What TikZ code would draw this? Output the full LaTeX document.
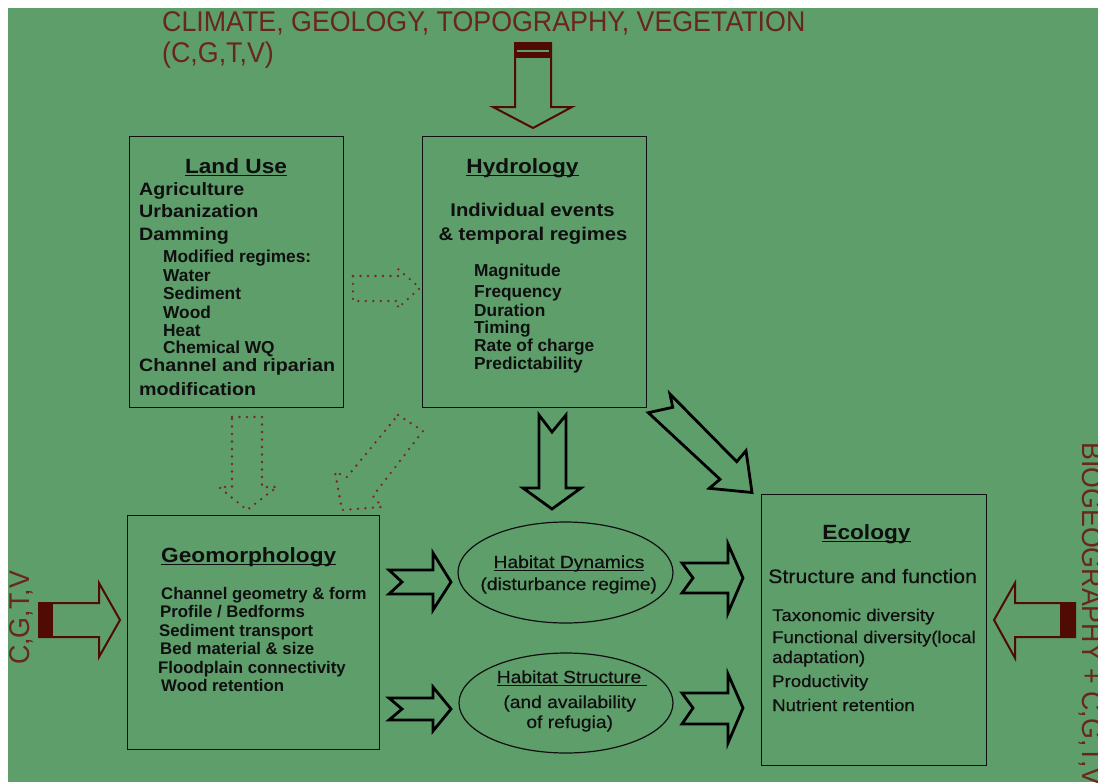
\documentclass[tikz,border=0pt]{standalone}
\usepackage{fontspec}
\setmainfont{Liberation Sans}
\newfontfamily\fN[FakeStretch=0.94]{Liberation Sans}
\newfontfamily\fW[FakeStretch=1.1]{Liberation Sans}
\newfontfamily\fWm[FakeStretch=1.1,FakeBold=0.5]{Liberation Sans}
\usetikzlibrary{shapes.geometric}
\definecolor{bg}{RGB}{94,158,107}
\definecolor{brn}{RGB}{80,12,4}
\definecolor{brtxt}{RGB}{105,38,28}
\definecolor{ink}{RGB}{15,15,15}
\definecolor{dotc}{RGB}{115,42,30}
\newcommand\ulin[1]{\setbox0=\hbox{#1}\rlap{\rule[-3.4pt]{\wd0}{1.4pt}}\box0}
\tikzset{
  box/.style={draw=ink, line width=1.3pt, inner sep=0pt, anchor=north west},
  ell/.style={ellipse, draw=ink, line width=1.2pt, inner sep=0pt},
  txt/.style={inner sep=0pt, text=ink, anchor=base west},
  ctxt/.style={inner sep=0pt, text=ink, anchor=base},
  brtext/.style={inner sep=0pt, anchor=base west, text=brtxt, font=\fN\fontsize{28.5}{30}\selectfont},
  head/.style={font=\fW\bfseries\fontsize{20.6}{24}\selectfont},
  mainit/.style={font=\fW\bfseries\fontsize{17.9}{20}\selectfont},
  subit/.style={font=\bfseries\fontsize{17.3}{20}\selectfont},
  geoit/.style={font=\bfseries\fontsize{16.8}{20}\selectfont},
  hmain/.style={font=\fW\bfseries\fontsize{18.4}{20}\selectfont},
  etxt/.style={font=\fWm\fontsize{17.5}{20}\selectfont},
  ecomain/.style={font=\fWm\fontsize{19.4}{22}\selectfont},
  ecoit/.style={font=\fWm\fontsize{16.9}{20}\selectfont},
  blkarrow/.style={draw=black, line width=2.8pt, line join=miter},
  brarrow/.style={draw=brn, line width=2pt, line join=miter},
  dotarrow/.style={draw=dotc, line width=2.6pt, line cap=round, dash pattern=on 0pt off 7.5pt},
}
\begin{document}
\begin{tikzpicture}[x=1pt, y=-1pt]
\useasboundingbox (0,0) rectangle (1098,782);
\fill[white] (0,0) rectangle (1098,782);
\fill[bg] (7.5,7.5) rectangle (1098,782);

% top label and arrow
\node[brtext] (clim1) at (162,31) {CLIMATE, GEOLOGY, TOPOGRAPHY, VEGETATION};
\node[brtext] (clim2) at (162,62) {(C,G,T,V)};
\draw[brarrow] (515,43) -- (551,43) -- (551,107) -- (572,107) -- (533,128) -- (493,107) -- (515,107) -- cycle;
\fill[brn] (515,43) rectangle (551,58);
\draw[bg, line width=2pt] (517,51) -- (549,51);

% Land Use
\node[box, minimum width=214pt, minimum height=271pt] (landuse) at (129,136) {};
\node[ctxt, head] (lut) at (236,173) {\ulin{Land Use}};
\node[txt, mainit] (lu1) at (139,195) {Agriculture};
\node[txt, mainit] (lu2) at (139,217) {Urbanization};
\node[txt, mainit] (lu3) at (139,240) {Damming};
\node[txt, subit] (lu4) at (163,262) {Modified regimes:};
\node[txt, subit] (lu5) at (163,281) {Water};
\node[txt, subit] (lu6) at (163,299) {Sediment};
\node[txt, subit] (lu7) at (163,318) {Wood};
\node[txt, subit] (lu8) at (163,336) {Heat};
\node[txt, subit] (lu9) at (163,353) {Chemical WQ};
\node[txt, mainit] (lu10) at (139,371) {Channel and riparian};
\node[txt, mainit] (lu11) at (139,395) {modification};

% Hydrology
\node[box, minimum width=224pt, minimum height=271pt] (hydro) at (422,136) {};
\node[ctxt, head] (hyt) at (522.5,173) {\ulin{Hydrology}};
\node[ctxt, hmain] (hy1) at (532.5,216) {Individual events};
\node[ctxt, hmain] (hy2) at (533,240) {\& temporal regimes};
\node[txt, subit] (hy3) at (474,276) {Magnitude};
\node[txt, subit] (hy4) at (474,297) {Frequency};
\node[txt, subit] (hy5) at (474,316) {Duration};
\node[txt, subit] (hy6) at (474,333) {Timing};
\node[txt, subit] (hy7) at (474,351) {Rate of charge};
\node[txt, subit] (hy8) at (474,369) {Predictability};

% Geomorphology
\node[box, minimum width=252pt, minimum height=234pt] (geo) at (127,515) {};
\node[txt, head] (geot) at (161,562) {\ulin{Geomorphology}};
\node[txt, geoit] (ge1) at (161,599) {Channel geometry \& form};
\node[txt, geoit] (ge2) at (160,617) {Profile / Bedforms};
\node[txt, geoit] (ge3) at (159,636) {Sediment transport};
\node[txt, geoit] (ge4) at (160,654) {Bed material \& size};
\node[txt, geoit] (ge5) at (158,673) {Floodplain connectivity};
\node[txt, geoit] (ge6) at (161,691) {Wood retention};

% Habitat ellipses
\node[ell, minimum width=215pt, minimum height=101pt] (hdyn) at (565.5,572.5) {};
\node[ctxt, etxt] (hd1) at (569,568) {\ulin{Habitat Dynamics}};
\node[ctxt, etxt] (hd2) at (568.7,590) {(disturbance regime)};
\node[ell, minimum width=214pt, minimum height=100pt] (hstr) at (566,703) {};
\node[ctxt, etxt] (hs1) at (571.7,683) {\ulin{Habitat Structure\ }};
\node[ctxt, etxt] (hs2) at (569.7,708) {(and availability};
\node[ctxt, etxt] (hs3) at (569.7,728) {of refugia)};

% Ecology
\node[box, minimum width=225pt, minimum height=271pt] (eco) at (761,494) {};
\node[ctxt, head] (ecot) at (866.5,539) {\ulin{Ecology}};
\node[txt, ecomain] (ec1) at (768,583) {Structure and function};
\node[txt, ecoit] (ec2) at (772,621) {Taxonomic diversity};
\node[txt, ecoit] (ec3) at (772,643) {Functional diversity(local};
\node[txt, ecoit] (ec4) at (772,663) {adaptation)};
\node[txt, ecoit] (ec5) at (772,687) {Productivity};
\node[txt, ecoit] (ec6) at (772,711) {Nutrient retention};

% side labels and arrows
\node[brtext, rotate=90] (cgtvL) at (29.5,665) {C,G,T,V};
\node[brtext, rotate=-90] (bio) at (1082,442) {BIOGEOGRAPHY + C,G,T,V};
\draw[brarrow] (39,603) -- (99,603) -- (99,583) -- (120,620) -- (99,657) -- (99,637) -- (39,637) -- cycle;
\fill[brn] (39,603) rectangle (53,637);
\draw[brarrow] (1075,603) -- (1015,603) -- (1015,583) -- (994,620) -- (1015,658) -- (1015,637) -- (1075,637) -- cycle;
\fill[brn] (1060,603) rectangle (1075,637);

% dotted arrows
\draw[dotarrow] (353,276) -- (398,276) -- (398,269) -- (420,288) -- (398,308) -- (398,301) -- (353,301) -- cycle;
\draw[dotarrow] (232,417) -- (262,417) -- (262,487) -- (277,487) -- (247,510) -- (219,487) -- (232,487) -- cycle;
\draw[dotarrow] (398,415) -- (423,431) -- (373,496) -- (382,507) -- (342,510) -- (335,472) -- (347,477) -- cycle;

% black block arrows
\draw[blkarrow] (539,415) -- (552,432) -- (566,415) -- (566,488) -- (581,488) -- (552,509) -- (523,488) -- (539,488) -- cycle;
\draw[blkarrow] (670,394) -- (672.7,407.3) -- (648.3,412.7) -- (720,479.3) -- (709.3,488.3) -- (752,492.5) -- (746,450.7) -- (736.7,461.7) -- cycle;
\draw[blkarrow] (389,570) -- (433,570) -- (433,553) -- (451,582) -- (433,610) -- (433,594) -- (389,594) -- (402,582) -- cycle;
\draw[blkarrow] (389,698) -- (433,698) -- (433,687) -- (451,709) -- (433,731) -- (433,720) -- (389,720) -- (402,709) -- cycle;
\draw[blkarrow] (682,563) -- (728,563) -- (728,544) -- (743,578) -- (728,613) -- (728,593) -- (682,593) -- (693,578) -- cycle;
\draw[blkarrow] (682,693) -- (728,693) -- (728,674) -- (743,708) -- (728,743) -- (728,724) -- (682,724) -- (693,708) -- cycle;
\end{tikzpicture}
\end{document}
